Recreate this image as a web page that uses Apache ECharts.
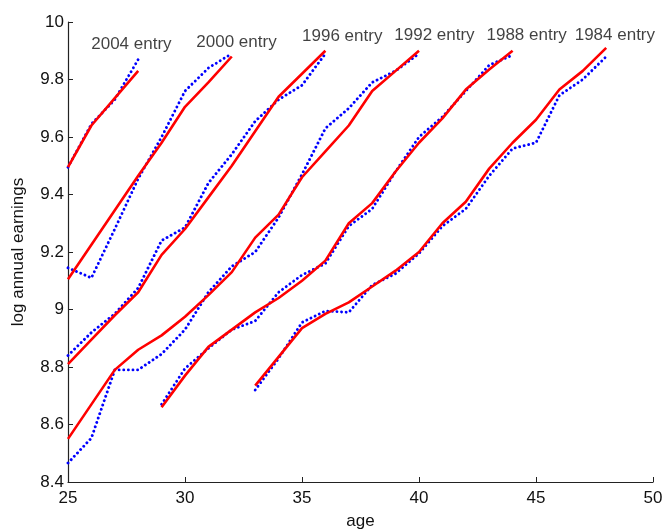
<!DOCTYPE html>
<html><head><meta charset="utf-8">
<script src="https://cdn.jsdelivr.net/npm/echarts@6/dist/echarts.min.js"></script>
<style>html,body{margin:0;padding:0;background:#fff}#c{width:666px;height:531px}</style>
</head><body><div id="c"></div>
<script>
// cohort names and first age of each cohort
const cohorts = ['2004 entry', '2000 entry', '1996 entry', '1992 entry', '1988 entry', '1984 entry'];
const startAges = [25, 25, 25, 25, 29, 33];

// model (red, solid) log annual earnings by age
const model2004 = [9.495, 9.64, 9.735, 9.83];
const model2000 = [9.105, 9.225, 9.345, 9.465, 9.58, 9.705, 9.79, 9.88];
const model1996 = [8.81, 8.895, 8.98, 9.06, 9.19, 9.28, 9.39, 9.50, 9.62, 9.74, 9.82, 9.90];
const model1992 = [8.55, 8.67, 8.79, 8.86, 8.91, 8.975, 9.05, 9.13, 9.25, 9.33, 9.46, 9.55, 9.64, 9.76, 9.83, 9.90];
const model1988 = [8.66, 8.77, 8.87, 8.93, 8.99, 9.04, 9.10, 9.17, 9.30, 9.37, 9.48, 9.58, 9.665, 9.765, 9.835, 9.90];
const model1984 = [8.735, 8.835, 8.935, 8.985, 9.025, 9.08, 9.135, 9.20, 9.30, 9.375, 9.49, 9.58, 9.66, 9.765, 9.83, 9.91];

// data (blue, dotted) log annual earnings by age
const data2004 = [9.495, 9.645, 9.73, 9.87];
const data2000 = [9.145, 9.11, 9.28, 9.455, 9.60, 9.76, 9.84, 9.89];
const data1996 = [8.84, 8.92, 8.985, 9.075, 9.24, 9.285, 9.44, 9.54, 9.655, 9.73, 9.78, 9.89];
const data1992 = [8.466, 8.553, 8.79, 8.79, 8.845, 8.93, 9.06, 9.15, 9.20, 9.32, 9.47, 9.63, 9.70, 9.79, 9.83, 9.89];
const data1988 = [8.67, 8.795, 8.865, 8.93, 8.96, 9.06, 9.12, 9.16, 9.29, 9.35, 9.48, 9.60, 9.67, 9.76, 9.85, 9.885];
const data1984 = [8.72, 8.83, 8.955, 8.995, 8.99, 9.085, 9.125, 9.195, 9.29, 9.35, 9.465, 9.56, 9.58, 9.745, 9.80, 9.88];

// axis ticks
const xTicks = [25, 30, 35, 40, 45, 50];
const yTicks = [8.4, 8.6, 8.8, 9, 9.2, 9.4, 9.6, 9.8, 10];

const modelSets = [model2004, model2000, model1996, model1992, model1988, model1984];
const dataSets = [data2004, data2000, data1996, data1992, data1988, data1984];

// label anchors (age offset from cohort end, level) - layout only
const labelOffsets = [-0.29, 0.2, 0.72, 0.66, 0.6, 0.37];
const labelLevels = [9.922, 9.928, 9.951, 9.953, 9.953, 9.953];

const FONT = '"Liberation Sans", Arial, Helvetica, sans-serif';
const series = [];
dataSets.forEach((arr, k) => {
  series.push({
    type: 'line', name: cohorts[k] + ' data', z: 2,
    data: arr.map((v, i) => [startAges[k] + i, v]),
    showSymbol: false, symbol: 'none', silent: true, animation: false,
    lineStyle: { color: '#0000ff', width: 2.9, type: [0.01, 4.6], cap: 'round' }
  });
});
modelSets.forEach((arr, k) => {
  series.push({
    type: 'line', name: cohorts[k] + ' model', z: 3,
    data: arr.map((v, i) => [startAges[k] + i, v]),
    showSymbol: false, symbol: 'none', silent: true, animation: false,
    lineStyle: { color: '#ff0000', width: 2.6 }
  });
});
series.push({
  type: 'scatter', z: 4, silent: true, animation: false, symbolSize: 0,
  data: cohorts.map((c, k) => ({
    value: [startAges[k] + modelSets[k].length - 1 + labelOffsets[k], labelLevels[k]],
    name: c
  })),
  label: { show: true, position: 'inside', formatter: p => p.name,
           fontSize: 17, color: '#111', fontFamily: FONT }
});

const chart = echarts.init(document.getElementById('c'), null, { renderer: 'canvas' });
chart.setOption({
  backgroundColor: '#fff',
  animation: false,
  grid: { left: 68, right: 13, top: 22, bottom: 49, containLabel: false, outerBoundsMode: 'none' },
  xAxis: {
    type: 'value', min: xTicks[0], max: xTicks[xTicks.length - 1], interval: 5,
    name: 'age', nameLocation: 'middle', nameGap: 31,
    nameTextStyle: { fontSize: 17, color: '#111', fontFamily: FONT },
    axisLine: { lineStyle: { color: '#222', width: 1.2 } },
    axisTick: { inside: true, length: 5, lineStyle: { color: '#222' } },
    axisLabel: { fontSize: 17, color: '#111', margin: 8, fontFamily: FONT },
    splitLine: { show: false }
  },
  yAxis: {
    type: 'value', min: yTicks[0], max: yTicks[yTicks.length - 1], interval: 0.2,
    name: 'log annual earnings', nameLocation: 'middle', nameGap: 41, nameRotate: 90,
    nameTextStyle: { fontSize: 17, color: '#111', fontFamily: FONT },
    axisLine: { show: true, lineStyle: { color: '#222', width: 1.2 } },
    axisTick: { show: true, inside: true, length: 5, lineStyle: { color: '#222' } },
    axisLabel: { fontSize: 17, color: '#111', margin: 4, fontFamily: FONT,
                 formatter: v => String(Math.round(v * 10) / 10) },
    splitLine: { show: false }
  },
  series: series
});
</script>
</body></html>
